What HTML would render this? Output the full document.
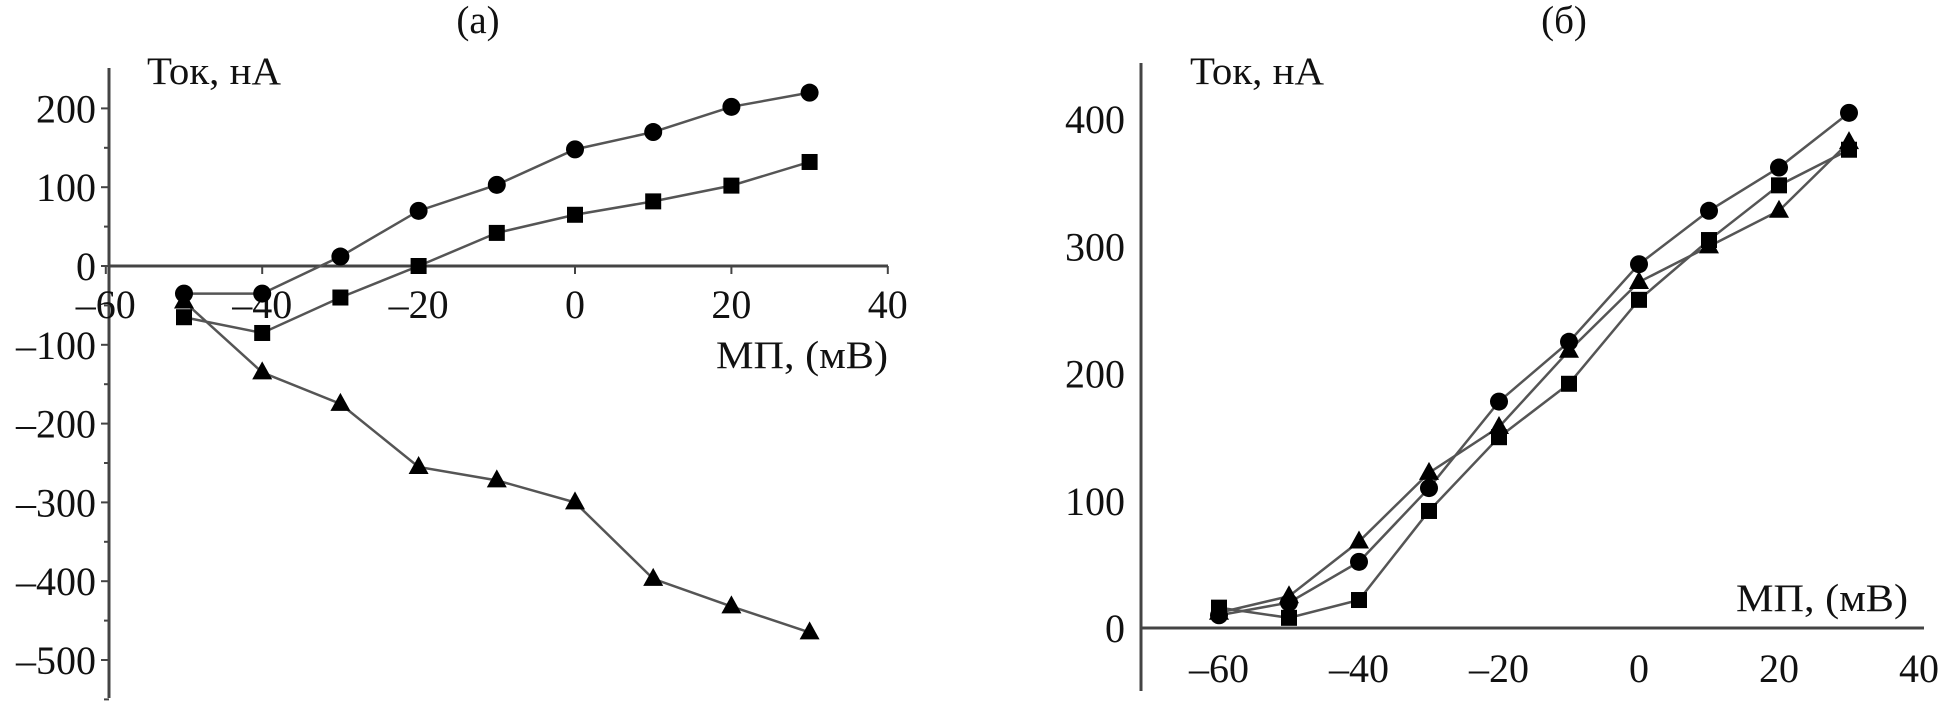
<!DOCTYPE html>
<html><head><meta charset="utf-8"><style>
html,body{margin:0;padding:0;background:#fff;}
svg{display:block;font-family:"Liberation Serif","DejaVu Serif",serif;}
</style></head><body>
<svg id="chart" width="1948" height="703" viewBox="0 0 1948 703">
<g id="pa"></g>
<g id="pb"></g>
</svg>
<script>
const xA = [-50,-40,-30,-20,-10,0,10,20,30];
const circA = [-35,-35,12,70,103,148,170,202,220];
const sqA = [-65,-85,-40,0,42,65,82,102,132];
const triA = [-45,-135,-175,-255,-272,-300,-397,-432,-465];
const xTicksA = [-60,-40,-20,0,20,40];
const yTicksA = [200,100,0,-100,-200,-300,-400,-500];

const xB = [-60,-50,-40,-30,-20,-10,0,10,20,30];
const circB = [10,20,52,110,178,225,286,328,362,405];
const sqB = [16,8,22,92,150,192,258,305,348,376];
const triB = [12,25,68,122,158,218,272,300,328,382];
const xTicksB = [-60,-40,-20,0,20,40];
const yTicksB = [0,100,200,300,400];

const NS = "http://www.w3.org/2000/svg";
function mk(parent, tag, attrs, text){
  const e = document.createElementNS(NS, tag);
  for (const k in attrs) e.setAttribute(k, attrs[k]);
  if (text !== undefined) e.textContent = text;
  parent.appendChild(e);
  return e;
}
function fmt(v){ return v < 0 ? "\u2013" + Math.abs(v) : String(v); }

function panel(g, cfg){
  const X = v => cfg.x0 + (v - 0) * cfg.xs;
  const Y = v => cfg.y0 - v * cfg.ys;
  const ya = mk(g,'line',{x1:cfg.ax,y1:cfg.yTop,x2:cfg.ax,y2:cfg.yBot,stroke:'#444','stroke-width':3});
   
  const xa = mk(g,'line',{x1:cfg.ax,y1:cfg.y0,x2:cfg.xRight,y2:cfg.y0,stroke:'#444','stroke-width':3});
   
  cfg.yTicks.forEach(v=>{
    const t = mk(g,'text',{x:cfg.yLabX,y:Y(v)+14,'text-anchor':'end','font-size':40,fill:'#111'},fmt(v));
     
    if (cfg.minor){
      const tk = mk(g,'line',{x1:cfg.ax-8,y1:Y(v),x2:cfg.ax,y2:Y(v),stroke:'#444','stroke-width':2});
       
      const mt = mk(g,'line',{x1:cfg.ax-5,y1:Y(v-50),x2:cfg.ax,y2:Y(v-50),stroke:'#444','stroke-width':2});
       
    }
  });
  cfg.xTicks.forEach(v=>{
    const t = mk(g,'text',{x:X(v),y:cfg.xLabY,'text-anchor':'middle','font-size':40,fill:'#111'},fmt(v));
     
    if (cfg.minor){
      const tk = mk(g,'line',{x1:X(v),y1:cfg.y0,x2:X(v),y2:cfg.y0+8,stroke:'#444','stroke-width':2});
       
    }
  });
  cfg.series.forEach(s=>{
    const pts = cfg.xs_data.map((xv,i)=>X(xv)+','+Y(s.vals[i])).join(' ');
    const pl = mk(g,'polyline',{points:pts,fill:'none',stroke:'#555','stroke-width':2.5});
     
  });
  cfg.series.forEach(s=>{
    cfg.xs_data.forEach((xv,i)=>{
      const cx = X(xv), cy = Y(s.vals[i]);
      let m;
      if (s.shape==='circle') m = mk(g,'circle',{cx:cx,cy:cy,r:9,fill:'#000'});
      else if (s.shape==='square') m = mk(g,'rect',{x:cx-8,y:cy-8,width:16,height:16,fill:'#000'});
      else m = mk(g,'polygon',{points:`${cx},${cy-11} ${cx+10},${cy+7} ${cx-10},${cy+7}`,fill:'#000'});
       
    });
  });
  const tt = mk(g,'text',{x:cfg.titleX,y:33,'text-anchor':'middle','font-size':39,fill:'#111'},cfg.title);
   
  const yt = mk(g,'text',{x:cfg.yTitleX,y:84,'font-size':39,fill:'#111',textLength:134,lengthAdjust:'spacingAndGlyphs'},'Ток, нА');
   
  const xt = mk(g,'text',{x:cfg.xTitleX,y:cfg.xTitleY,'font-size':39,fill:'#111',textLength:172,lengthAdjust:'spacingAndGlyphs'},'МП, (мВ)');
   
}

panel(document.getElementById('pa'),{
  x0:575, xs:7.82, y0:266, ys:0.788, ax:109, yTop:68, yBot:698, xRight:888,
  yTicks:yTicksA, xTicks:xTicksA, yLabX:96, xLabY:318, minor:true,
  xs_data:xA,
  series:[{name:'circle-series',shape:'circle',vals:circA},{name:'square-series',shape:'square',vals:sqA},{name:'triangle-series',shape:'triangle',vals:triA}],
  title:'(a)', titleX:478, yTitleX:147, xTitleX:716, xTitleY:368
});
panel(document.getElementById('pb'),{
  x0:1639, xs:7.0, y0:628, ys:1.272, ax:1141, yTop:63, yBot:691, xRight:1924,
  yTicks:yTicksB, xTicks:xTicksB, yLabX:1125, xLabY:682, minor:false,
  xs_data:xB,
  series:[{name:'circle-series',shape:'circle',vals:circB},{name:'square-series',shape:'square',vals:sqB},{name:'triangle-series',shape:'triangle',vals:triB}],
  title:'(б)', titleX:1564, yTitleX:1190, xTitleX:1736, xTitleY:611
});
</script>
</body></html>
